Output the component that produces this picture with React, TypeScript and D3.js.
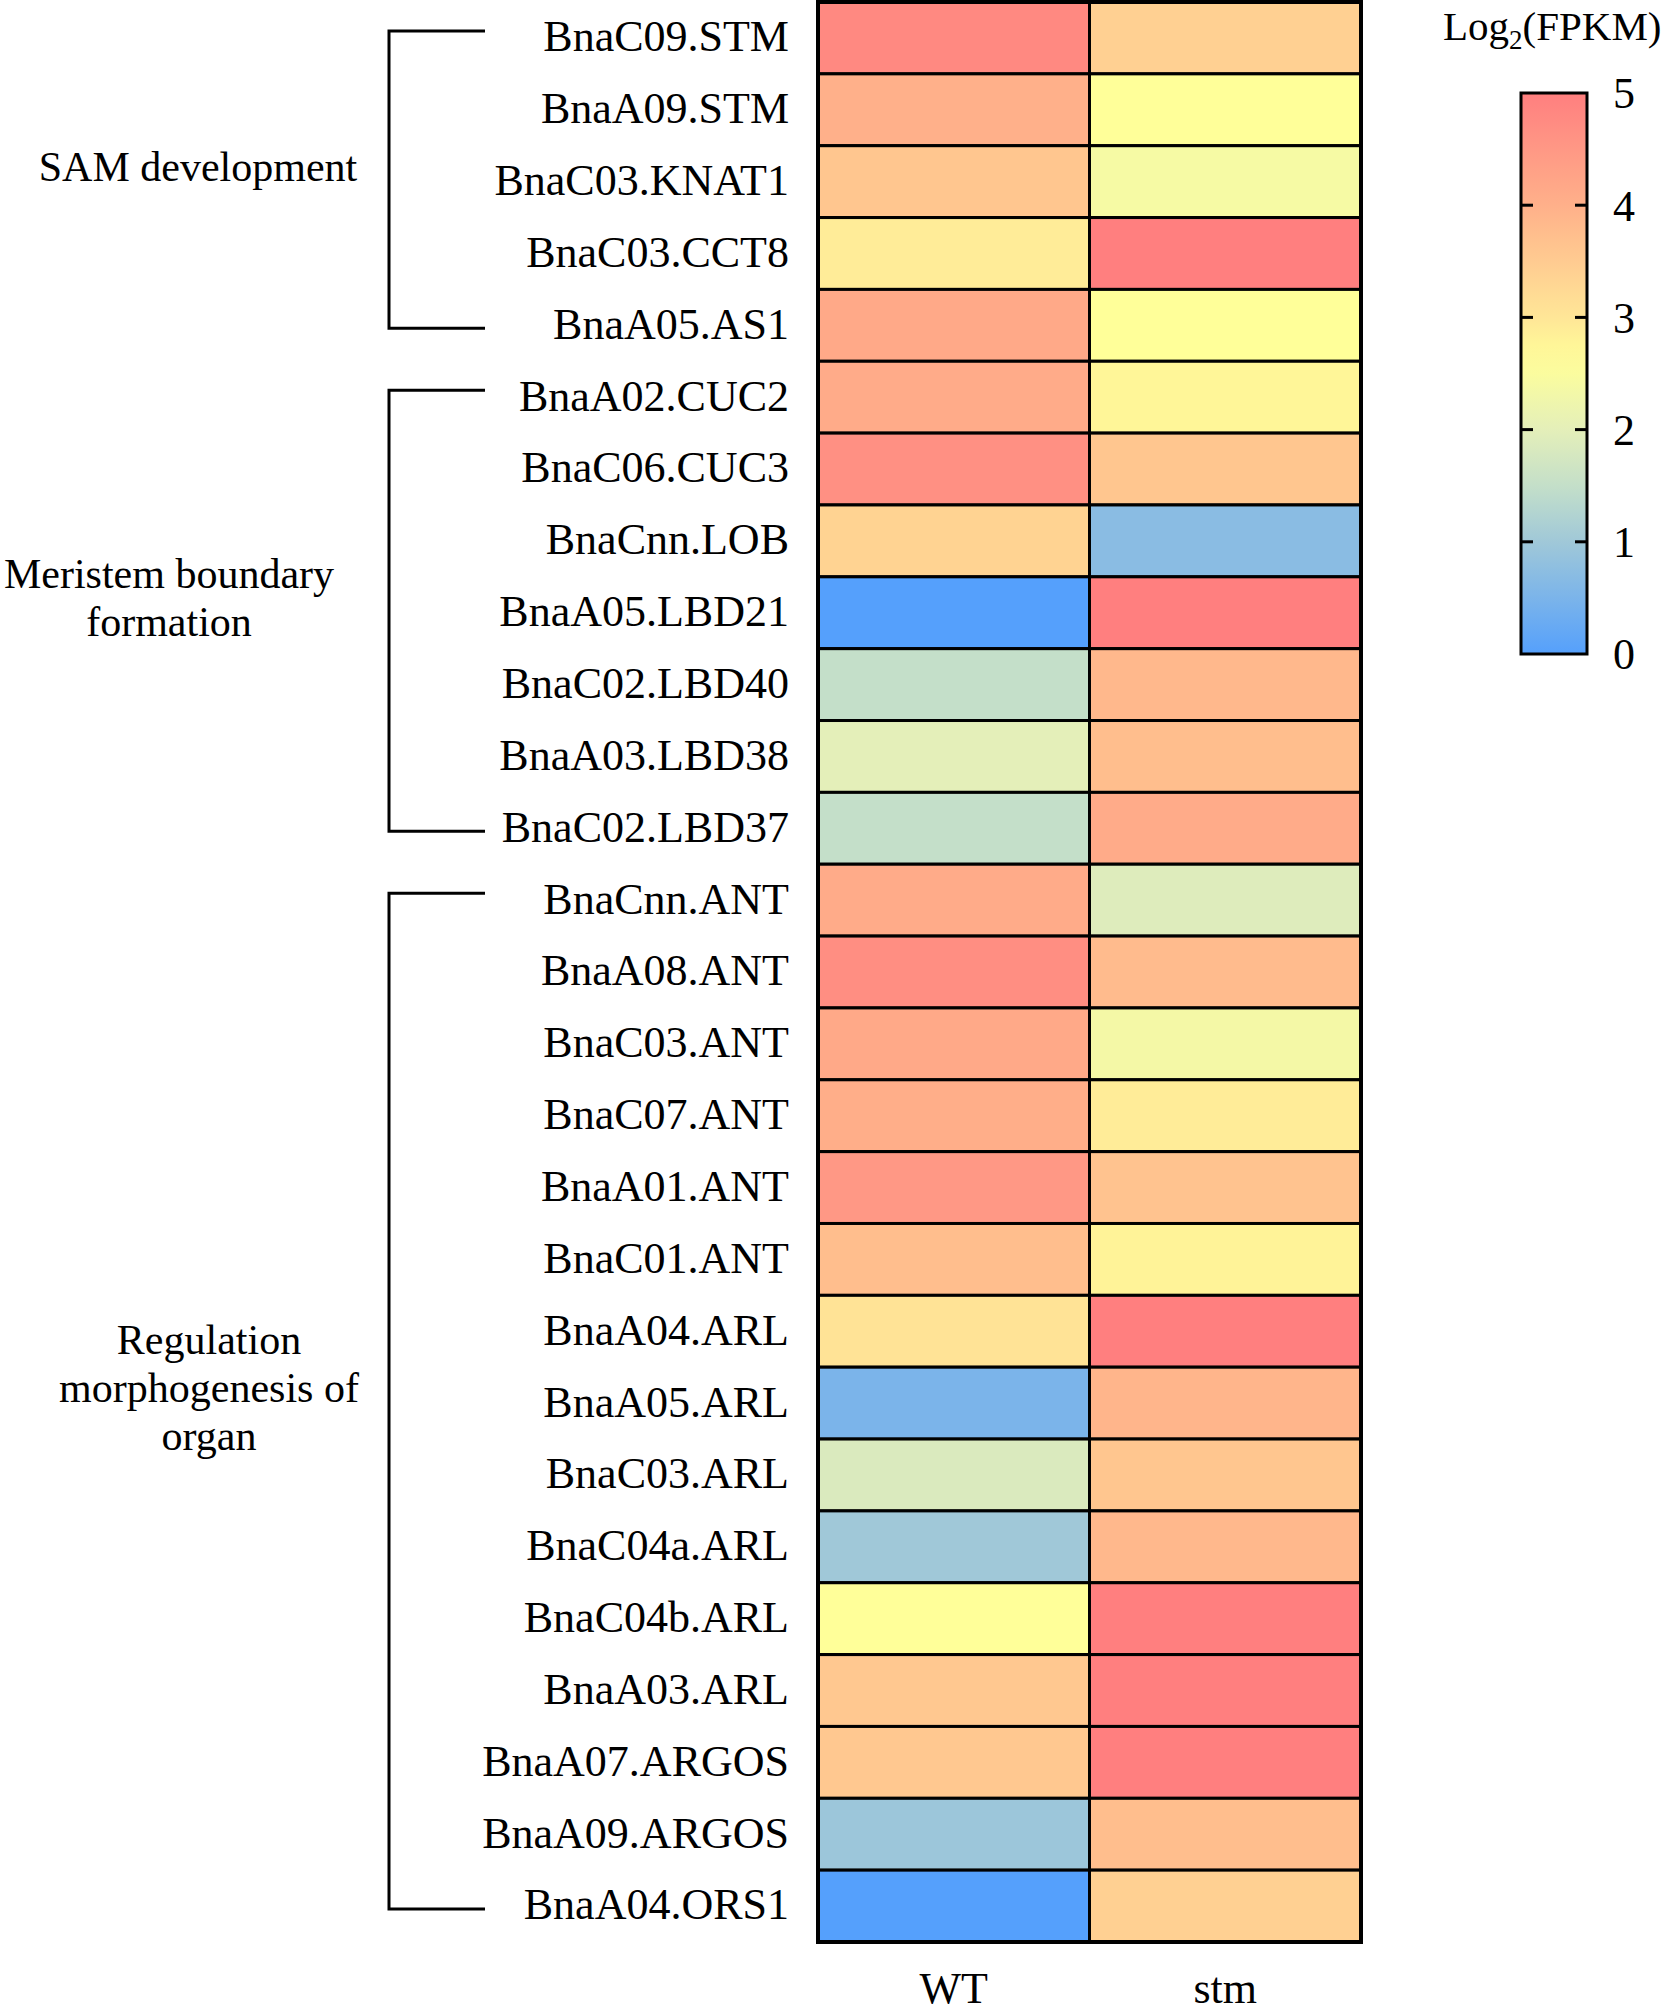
import * as d3 from "d3";
import { useEffect, useRef } from "react";

const genes = [
    "BnaC09.STM", "BnaA09.STM", "BnaC03.KNAT1", "BnaC03.CCT8", "BnaA05.AS1",
    "BnaA02.CUC2", "BnaC06.CUC3", "BnaCnn.LOB", "BnaA05.LBD21", "BnaC02.LBD40",
    "BnaA03.LBD38", "BnaC02.LBD37", "BnaCnn.ANT", "BnaA08.ANT", "BnaC03.ANT",
    "BnaC07.ANT", "BnaA01.ANT", "BnaC01.ANT", "BnaA04.ARL", "BnaA05.ARL",
    "BnaC03.ARL", "BnaC04a.ARL", "BnaC04b.ARL", "BnaA03.ARL", "BnaA07.ARGOS",
    "BnaA09.ARGOS", "BnaA04.ORS1",
];

const samples = ["WT", "stm"];

// log2(FPKM)
const wtValues = [
    4.8, 4.0, 3.6, 2.9, 4.15, 4.1, 4.65, 3.35, 0.0, 1.5, 2.0, 1.5, 4.1, 4.7,
    4.15, 4.05, 4.5, 3.75, 3.05, 0.5, 1.85, 1.0, 2.6, 3.55, 3.55, 0.95, 0.0,
];
const stmValues = [
    3.4, 2.6, 2.4, 5.0, 2.6, 2.75, 3.6, 0.7, 5.0, 3.85, 3.75, 4.1, 1.9, 3.8,
    2.35, 2.9, 3.65, 2.8, 5.0, 3.9, 3.6, 3.85, 5.0, 5.0, 5.0, 3.75, 3.4,
];

const groups = [
    { lines: ["SAM development"], from: 0, to: 4 },
    { lines: ["Meristem boundary", "formation"], from: 5, to: 11 },
    { lines: ["Regulation", "morphogenesis of", "organ"], from: 12, to: 26 },
];

const legendTicks = [0, 1, 2, 3, 4, 5];
const colorStops = [0, 1, 1.5, 2, 2.6, 3, 4, 5];
const colorRange = ["#55a0fc", "#a0c8d8", "#c4dfc9", "#e4efb9", "#ffff99", "#ffe697", "#ffb08a", "#ff7f7f"];

const FONT = "'Liberation Serif', 'Times New Roman', serif";

export default function App() {
    const svgRef = useRef<SVGSVGElement | null>(null);

    useEffect(() => {
        if (!svgRef.current) return;
        const svg = d3.select(svgRef.current);
        svg.selectAll("*").remove();

        const left = 818, right = 1361, top = 2, bottom = 1942;

        const x = d3.scaleBand().domain(samples).range([left, right]);
        const y = d3.scaleBand().domain(genes).range([top, bottom]);
        const color = d3.scaleLinear<string>().domain(colorStops).range(colorRange).clamp(true);

        const cells = genes.flatMap((g, i) => [
            { gene: g, sample: "WT", value: wtValues[i] },
            { gene: g, sample: "stm", value: stmValues[i] },
        ]);

        // cells
        svg.append("g")
            .selectAll("rect")
            .data(cells)
            .join("rect")
            .attr("x", d => x(d.sample)!)
            .attr("y", d => y(d.gene)!)
            .attr("width", x.bandwidth())
            .attr("height", y.bandwidth())
            .attr("fill", d => color(d.value))
            .attr("stroke", "#000")
            .attr("stroke-width", 3);

        svg.append("rect")
            .attr("x", left).attr("y", top)
            .attr("width", right - left).attr("height", bottom - top)
            .attr("fill", "none").attr("stroke", "#000").attr("stroke-width", 4);

        // row labels
        svg.append("g")
            .selectAll("text")
            .data(genes)
            .join("text")
            .attr("x", 789)
            .attr("y", d => y(d)! + y.bandwidth() / 2 - 2)
            .attr("dy", "0.35em")
            .attr("text-anchor", "end")
            .attr("font-family", FONT)
            .attr("font-size", 44)
            .text(d => d);

        // column labels
        svg.append("g")
            .selectAll("text")
            .data(samples)
            .join("text")
            .attr("x", d => x(d)! + x.bandwidth() / 2)
            .attr("y", 2003)
            .attr("text-anchor", "middle")
            .attr("font-family", FONT)
            .attr("font-size", 44)
            .text(d => d);

        // group brackets
        const bx = 389, bx2 = 485;
        const lineCenters = [198, 169, 209];
        groups.forEach((g, gi) => {
            const y0 = y(genes[g.from])! + y.bandwidth() / 2 - 7;
            const y1 = y(genes[g.to])! + y.bandwidth() / 2 + 3;
            svg.append("path")
                .attr("d", `M${bx2},${y0}H${bx}V${y1}H${bx2}`)
                .attr("fill", "none")
                .attr("stroke", "#000")
                .attr("stroke-width", 3);
            const mid = (y0 + y1) / 2;
            const lh = 48;
            const t = svg.append("text")
                .attr("text-anchor", "middle")
                .attr("font-family", FONT)
                .attr("font-size", 42);
            g.lines.forEach((ln, li) => {
                t.append("tspan")
                    .attr("x", lineCenters[gi])
                    .attr("y", mid + (li - (g.lines.length - 1) / 2) * lh + 1)
                    .text(ln);
            });
        });

        // colour legend
        const lx = 1521, lw = 66, ly0 = 93, ly1 = 654;
        const ly = d3.scaleLinear().domain([0, 5]).range([ly1, ly0]);
        const grad = svg.append("defs").append("linearGradient")
            .attr("id", "cbar")
            .attr("x1", 0).attr("y1", 1).attr("x2", 0).attr("y2", 0);
        d3.range(0, 5.01, 0.25).forEach(v => {
            grad.append("stop").attr("offset", v / 5).attr("stop-color", color(v));
        });
        svg.append("rect")
            .attr("x", lx).attr("y", ly0)
            .attr("width", lw).attr("height", ly1 - ly0)
            .attr("fill", "url(#cbar)")
            .attr("stroke", "#000").attr("stroke-width", 3);

        const tickG = svg.append("g");
        legendTicks.filter(t => t > 0 && t < 5).forEach(t => {
            tickG.append("line")
                .attr("x1", lx).attr("x2", lx + 12)
                .attr("y1", ly(t)).attr("y2", ly(t))
                .attr("stroke", "#000").attr("stroke-width", 3);
            tickG.append("line")
                .attr("x1", lx + lw - 12).attr("x2", lx + lw)
                .attr("y1", ly(t)).attr("y2", ly(t))
                .attr("stroke", "#000").attr("stroke-width", 3);
        });
        svg.append("g")
            .selectAll("text")
            .data(legendTicks)
            .join("text")
            .attr("x", 1613)
            .attr("y", d => ly(d))
            .attr("dy", "0.35em")
            .attr("font-family", FONT)
            .attr("font-size", 44)
            .text(d => d);

        const title = svg.append("text")
            .attr("x", 1443)
            .attr("y", 40)
            .attr("font-family", FONT)
            .attr("font-size", 41);
        title.append("tspan").text("Log");
        title.append("tspan").attr("font-size", 27).attr("dy", 9).text("2");
        title.append("tspan").attr("dy", -9).text("(FPKM)");
    }, []);

    return (
        <svg
            ref={svgRef}
            width={1664}
            height={2016}
            style={{ position: "absolute", left: 0, top: 0, background: "#fff" }}
        />
    );
}
